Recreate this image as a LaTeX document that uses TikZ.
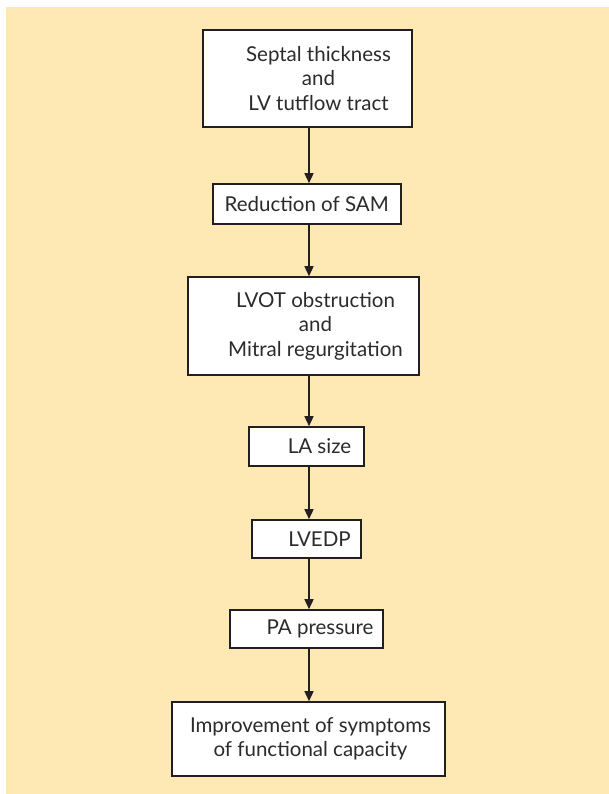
\documentclass[tikz,border=0pt]{standalone}
\usepackage{fontspec}
\setmainfont{Lato}
\usetikzlibrary{arrows.meta}
\definecolor{bg}{HTML}{FEE8B4}
\definecolor{ink}{HTML}{231F20}
\definecolor{txt}{HTML}{2B2B2B}
\begin{document}
\begin{tikzpicture}[x=1pt,y=-1pt,
  box/.style={draw=ink, line width=1.6pt, fill=white, inner sep=0pt},
  lbl/.style={text=txt, align=center, font=\fontsize{20.5}{24.5}\selectfont, inner sep=0pt},
  arr/.style={draw=ink, line width=1.5pt, -{Triangle[length=10pt,width=9pt]}}]
\useasboundingbox (0,0) rectangle (609,794);
\fill[bg] (6,7) rectangle (609,794);
\node[box, minimum width=209pt, minimum height=97pt] (b1) at (307.5,78.5) {};
\node[box, minimum width=188pt, minimum height=40pt] (b2) at (306.7,204) {};
\node[box, minimum width=231pt, minimum height=98pt] (b3) at (303.5,326) {};
\node[box, minimum width=115pt, minimum height=39pt] (b4) at (306.5,446.5) {};
\node[box, minimum width=109pt, minimum height=38pt] (b5) at (306.5,539) {};
\node[box, minimum width=153pt, minimum height=38pt] (b6) at (306.5,629) {};
\node[box, minimum width=273pt, minimum height=74pt] (b7) at (308.5,739) {};
\node[lbl] (t1) at ([xshift=11pt]b1.center) {Septal thickness\\and\\LV tutflow tract};
\node[lbl] (t2) at (b2.center) {Reduction of SAM};
\node[lbl] (t3) at ([xshift=12pt]b3.center) {LVOT obstruction\\and\\Mitral regurgitation};
\node[lbl] (t4) at ([xshift=13pt]b4.center) {LA size};
\node[lbl] (t5) at ([xshift=13pt]b5.center) {LVEDP};
\node[lbl] (t6) at ([xshift=13.5pt]b6.center) {PA pressure};
\node[lbl] (t7) at ([xshift=2pt]b7.center) {Improvement of symptoms\\of functional capacity};
\coordinate (ax) at (309,0);
\draw[arr] (b1.south -| ax) -- (b2.north -| ax);
\draw[arr] (b2.south -| ax) -- (b3.north -| ax);
\draw[arr] (b3.south -| ax) -- (b4.north -| ax);
\draw[arr] (b4.south -| ax) -- (b5.north -| ax);
\draw[arr] (b5.south -| ax) -- (b6.north -| ax);
\draw[arr] (b6.south -| ax) -- (b7.north -| ax);
\end{tikzpicture}
\end{document}
